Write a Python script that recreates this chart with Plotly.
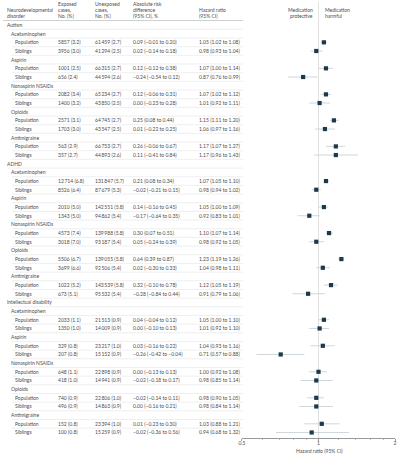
import plotly.graph_objects as go

disorders = ["Autism", "ADHD", "Intellectual disability"]
medications = ["Acetaminophen", "Aspirin", "Nonaspirin NSAIDs", "Opioids", "Antimigraine"]
groups = ["Population", "Siblings"]

exposed_n = [5857, 3956, 1001, 656, 2082, 1400, 2571, 1703, 563, 357,
             12714, 8526, 2010, 1343, 4573, 3018, 5506, 3699, 1022, 673,
             2033, 1350, 329, 207, 648, 418, 740, 496, 152, 100]
exposed_pct = [3.2, 3.0, 2.5, 2.4, 3.4, 3.2, 3.1, 3.0, 2.9, 2.7,
               6.8, 6.4, 5.0, 5.0, 7.4, 7.0, 6.7, 6.6, 5.2, 5.1,
               1.1, 1.0, 0.8, 0.8, 1.1, 1.0, 0.9, 0.9, 0.8, 0.8]
unexposed_n = [61459, 41294, 66315, 44594, 65234, 43850, 64745, 43547, 66753, 44893,
               131847, 87679, 142551, 94862, 139988, 93187, 139055, 92506, 143539, 95532,
               21513, 14009, 23217, 15152, 22898, 14941, 22806, 14863, 23394, 15259]
unexposed_pct = [2.7, 2.5, 2.7, 2.6, 2.7, 2.5, 2.7, 2.5, 2.7, 2.6,
                 5.7, 5.3, 5.8, 5.4, 5.8, 5.4, 5.8, 5.4, 5.8, 5.4,
                 0.9, 0.9, 1.0, 0.9, 0.9, 0.9, 1.0, 0.9, 1.0, 0.9]
ard = [0.09, 0.02, 0.12, -0.24, 0.12, 0.00, 0.25, 0.01, 0.26, 0.11,
       0.21, -0.02, 0.14, -0.17, 0.30, 0.05, 0.64, 0.02, 0.32, -0.28,
       0.04, 0.00, 0.03, -0.26, 0.00, -0.02, -0.02, 0.00, 0.01, -0.02]
ard_lo = [-0.01, -0.14, -0.12, -0.54, -0.06, -0.23, 0.08, -0.22, -0.06, -0.41,
          0.08, -0.21, -0.16, -0.64, 0.07, -0.24, 0.39, -0.30, -0.10, -0.84,
          -0.04, -0.10, -0.16, -0.42, -0.13, -0.18, -0.14, -0.16, -0.23, -0.36]
ard_hi = [0.20, 0.18, 0.38, 0.12, 0.31, 0.28, 0.44, 0.25, 0.67, 0.84,
          0.34, 0.15, 0.45, 0.35, 0.51, 0.39, 0.87, 0.33, 0.78, 0.44,
          0.12, 0.13, 0.22, -0.04, 0.13, 0.17, 0.11, 0.21, 0.30, 0.56]
hr = [1.05, 0.98, 1.07, 0.87, 1.07, 1.01, 1.15, 1.06, 1.17, 1.17,
      1.07, 0.98, 1.05, 0.92, 1.10, 0.98, 1.23, 1.04, 1.12, 0.91,
      1.05, 1.01, 1.04, 0.71, 1.00, 0.98, 0.98, 0.98, 1.03, 0.94]
hr_lo = [1.02, 0.93, 1.00, 0.76, 1.02, 0.92, 1.11, 0.97, 1.07, 0.96,
         1.05, 0.94, 1.00, 0.83, 1.07, 0.92, 1.19, 0.98, 1.05, 0.79,
         1.00, 0.92, 0.93, 0.57, 0.92, 0.85, 0.90, 0.84, 0.88, 0.68]
hr_hi = [1.08, 1.04, 1.14, 0.99, 1.12, 1.11, 1.20, 1.16, 1.27, 1.43,
         1.10, 1.02, 1.09, 1.01, 1.14, 1.05, 1.26, 1.11, 1.19, 1.06,
         1.10, 1.10, 1.16, 0.88, 1.08, 1.14, 1.05, 1.14, 1.21, 1.32]

TEXT = "#4d4d4d"
FONT = "Lato"
FS = 5
ROW_PX = 8.67
FIRST_PX = 25.0
W, H = 400, 457
AXIS_PX = 438.0


def r_of(px):
    return (px - FIRST_PX) / ROW_PX


def num(n):
    s = f"{n:d}"
    if len(s) >= 5:
        s = s[:-3] + "\u2009" + s[-3:]
    return s


def sgn(v):
    return f"{v:.2f}".replace("-", "\u2212")


rows = []  # (kind, label, idx)
k = 0
for d in disorders:
    rows.append(("dis", d, None))
    for m in medications:
        rows.append(("med", m, None))
        for g in groups:
            rows.append(("grp", g, k))
            k += 1

ann = []
shapes = []
indent = {"dis": 2, "med": 6, "grp": 10}
col_x = [53.5, 91, 130, 196]
table_right = 243

for r, (kind, label, i) in enumerate(rows):
    ann.append(dict(x=indent[kind] / W, y=r, text=label))
    if i is not None:
        vals = [f"{num(exposed_n[i])} ({exposed_pct[i]:.1f})",
                f"{num(unexposed_n[i])} ({unexposed_pct[i]:.1f})",
                f"{sgn(ard[i])} ({sgn(ard_lo[i])} to {sgn(ard_hi[i])})",
                f"{hr[i]:.2f} ({hr_lo[i]:.2f} to {hr_hi[i]:.2f})"]
        for cx, v in zip(col_x, vals):
            ann.append(dict(x=cx / W, y=r, text=v))
    if r < len(rows) - 1:
        nk = rows[r + 1][0]
        x0 = indent[kind] if kind == "grp" else indent[nk]
        shapes.append(dict(type="line", xref="paper", yref="y",
                           x0=(x0 - 1) / W, x1=table_right / W, y0=r + 0.5, y1=r + 0.5,
                           line=dict(color="#e4e4e4", width=0.6)))

# header
hdr = [
    (2, ["Neurodevelopmental", "disorder"]),
    (col_x[0], ["Exposed", "cases,", "No. (%)"]),
    (col_x[1], ["Unexposed", "cases,", "No. (%)"]),
    (col_x[2], ["Absolute risk", "difference", "(95% CI), %"]),
    (col_x[3], ["Hazard ratio", "(95% CI)"]),
]
line_px = [15.7, 10.0, 3.6]
for x, lines in hdr:
    for j, t in enumerate(reversed(lines)):
        ann.append(dict(x=x / W, y=r_of(line_px[j]), text=t))
shapes.append(dict(type="line", xref="paper", yref="y", x0=0, x1=table_right / W,
                   y0=r_of(20.5), y1=r_of(20.5), line=dict(color="#bbbbbb", width=0.7)))

for j, t in enumerate(["protective", "Medication"]):
    ann.append(dict(x=316 / W, y=r_of(line_px[j]), text=t, xanchor="right"))
for j, t in enumerate(["harmful", "Medication"]):
    ann.append(dict(x=324 / W, y=r_of(line_px[j]), text=t))

annotations = []
for a in ann:
    d = dict(xref="paper", yref="y", xanchor="left", yanchor="middle", showarrow=False,
             font=dict(family=FONT, size=FS, color=TEXT))
    d.update(a)
    annotations.append(d)
annotations.append(dict(xref="paper", yref="paper", x=320 / W, y=1 - 450.5 / H,
                        text="Hazard ratio (95% CI)", showarrow=False,
                        xanchor="center", yanchor="middle",
                        font=dict(family=FONT, size=FS, color=TEXT)))

data_rows = [r for r, row in enumerate(rows) if row[2] is not None]

fig = go.Figure()
# reference line at HR = 1
fig.add_trace(go.Scatter(x=[1, 1], y=[r_of(2), r_of(AXIS_PX)], mode="lines",
                         line=dict(color="#d9d9d9", width=0.8), hoverinfo="skip",
                         showlegend=False, cliponaxis=False))
# CI lines
cx, cy = [], []
for r, lo, hi in zip(data_rows, hr_lo, hr_hi):
    cx += [lo, hi, None]
    cy += [r, r, None]
fig.add_trace(go.Scatter(x=cx, y=cy, mode="lines", line=dict(color="#c3cbd3", width=0.8),
                         showlegend=False, hoverinfo="skip"))
fig.add_trace(go.Scatter(x=hr, y=data_rows, mode="markers",
                         marker=dict(symbol="square", size=4.2, color="#1b3a4b"),
                         showlegend=False))

fig.update_layout(
    width=W, height=H, autosize=False,
    margin=dict(l=0, r=0, t=0, b=0),
    paper_bgcolor="white", plot_bgcolor="white",
    annotations=annotations, shapes=shapes,
    xaxis=dict(type="log", domain=[242 / W, 397 / W],
               range=[-0.30103, 0.30103],
               tickvals=[0.5, 1, 2], ticktext=["0.5", "1", "2"],
               ticks="outside", ticklen=2.5, tickwidth=0.6, tickcolor="#999",
               ticklabelstandoff=-2,
               showline=True, linecolor="#999", linewidth=0.6,
               showgrid=False, zeroline=False,
               tickfont=dict(family=FONT, size=FS, color=TEXT),
               minor=dict(tickvals=[0.6, 0.7, 0.8, 0.9, 1.2, 1.4, 1.6, 1.8],
                          ticks="outside", ticklen=1.5, tickcolor="#bbb", tickwidth=0.5)),
    yaxis=dict(domain=[(H - AXIS_PX) / H, 1], range=[r_of(AXIS_PX), r_of(0)],
               visible=False, showgrid=False, zeroline=False),
)

fig.write_html("out.html",
               config={"displayModeBar": False},
               post_script="document.body.style.margin='0';document.body.style.overflow='hidden';")
